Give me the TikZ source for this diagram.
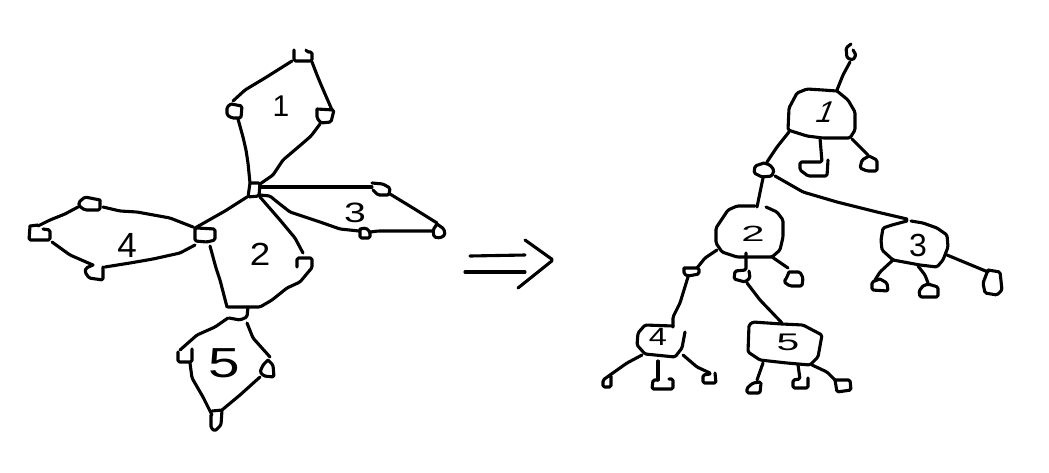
\documentclass[tikz,border=0pt]{standalone}
\usepackage{fontspec}
\setmainfont{Liberation Sans}
\tikzset{
  sk/.style={draw=black,line width=3.1pt,line join=round,line cap=round,rounded corners=1.5pt},
  dig/.style={inner sep=0pt,font=\fontsize{#1}{#1}\selectfont},
  dig/.default=28pt
}
\begin{document}
\begin{tikzpicture}[x=1pt,y=-1pt]
\useasboundingbox[fill=white] (0,0) rectangle (1049,472);
% ---- left figure: face 1
\draw[sk] (294,50)--(294,61)--(312,61)--(312,52)--(307,52)--(306,50);
\draw[sk] (292,61)--(265,78)--(245,90)--(233,101);
\draw[sk] (231,104)--(227,107)--(227,115)--(232,118)--(241,118)--(242,106)--(231,104);
\draw[sk] (238,119)--(243,137)--(246,150)--(248,163)--(250,183);
\draw[sk] (312,62)--(317,75)--(322,87)--(332,110);
\draw[sk] (317,109)--(334,110)--(331,122)--(321,123)--(317,118)--(317,109);
\draw[sk] (320,124)--(311,136)--(303,143)--(283,160)--(273,175)--(260,184);
\draw[sk] (250,183)--(260,183)--(259,196)--(248,197)--(250,183);
\draw[sk] (260,187)--(372,187);
% face 3
\draw[sk] (372,183)--(383,184)--(390,188)--(389,195)--(378,195)--(373,190);
\draw[sk] (390,194)--(413,208)--(437,223);
\draw[sk] (437,224)--(444,229)--(445,235)--(440,238)--(434,237)--(433,230)--(437,224);
\draw[sk] (433,231)--(378,231)--(370,232);
\draw[sk] (360,229)--(366,228)--(370,232)--(370,238)--(360,238)--(360,229);
\draw[sk] (260,195)--(270,196)--(276,201)--(290,212)--(320,222)--(340,229)--(359,231);
% face 2
\draw[sk] (260,197)--(280,220)--(295,238)--(303,253);
\draw[sk] (297,267)--(297,258)--(312,258)--(312,268)--(310,270);
\draw[sk] (310,270)--(300,282)--(287,288)--(272,300)--(260,307)--(228,307);
\draw[sk] (248,307)--(247,317)--(240,320)--(229,318);
\draw[sk] (247,197)--(225,211)--(195,228);
\draw[sk] (195,228)--(195,241)--(207,242)--(215,240)--(215,229)--(197,228);
\draw[sk] (210,246)--(216,268)--(220,280)--(227,307);
% face 4
\draw[sk] (103,207)--(120,211)--(137,212)--(170,218)--(193,227);
\draw[sk] (100,200)--(85,197)--(79,202)--(79,206)--(85,210)--(100,210)--(100,200);
\draw[sk] (78,207)--(65,214)--(50,220)--(38,226);
\draw[sk] (30,226)--(29,240)--(50,240)--(50,230)--(43,229);
\draw[sk] (30,226)--(38,225);
\draw[sk] (52,242)--(70,255)--(93,265);
\draw[sk] (93,265)--(86,268)--(85,272)--(89,278)--(103,280)--(103,267);
\draw[sk] (105,267)--(130,263)--(153,259)--(180,253)--(195,245);
% face 5
\draw[sk] (228,318)--(215,327)--(197,335)--(180,350);
\draw[sk] (178,352)--(178,362)--(192,362)--(192,349);
\draw[sk] (190,363)--(192,378)--(203,397)--(212,415);
\draw[sk] (212,411)--(222,410)--(221,425)--(215,431)--(211,428)--(211,415);
\draw[sk] (222,410)--(240,395)--(260,377);
\draw[sk] (247,323)--(253,338)--(270,357);
\draw[sk] (268,360)--(273,365)--(274,377)--(264,376)--(260,372)--(263,365)--(268,360);
% digits left
\node[dig=30pt] (la) at (281,106) {1};
\node[dig=32pt,xscale=1.15,transform shape] (lb) at (260,254) {2};
\node[dig=28pt,xscale=1.4,transform shape] (lc) at (355,213) {3};
\node[dig=35pt] (ld) at (127,245) {4};
\node[dig=42pt,xscale=1.35,transform shape] (le) at (224,363) {5};
% ---- implication arrow
\draw[sk] (470,256)--(525,255);
\draw[sk] (465,272)--(525,272);
\draw[sk] (525,240)--(553,260)--(518,288);
% ---- right figure: root
\draw[sk] (851,44)--(846,48)--(847,58)--(853,60)--(856,55)--(853,50);
\draw[sk] (850,62)--(843,75)--(837,90);
\draw[sk] (837,91)--(823,90)--(807,89)--(797,93)--(789,108)--(788,130)--(807,136)--(823,138)--(850,138)--(855,130)--(855,112)--(848,100)--(837,91);
\draw[sk] (789,132)--(777,147)--(767,162);
\draw[sk] (764,163)--(770,165)--(774,170)--(772,176)--(762,177)--(754,173)--(755,166)--(764,163);
\draw[sk] (820,138)--(822,162)--(800,162)--(800,170)--(808,176)--(827,176)--(828,160);
\draw[sk] (852,139)--(868,155);
\draw[sk] (869,156)--(862,160)--(860,168)--(867,171)--(877,171)--(877,160)--(869,156);
\draw[sk] (763,178)--(757,207);
\draw[sk] (775,176)--(803,192)--(837,202)--(877,212)--(907,219);
% node 2
\draw[sk] (755,206)--(737,206)--(728,210)--(716,228)--(716,243)--(722,252)--(737,257)--(772,257)--(780,250)--(783,237)--(783,220)--(777,212)--(766,207);
\draw[sk] (717,250)--(705,258)--(697,268);
\draw[sk] (684,268)--(699,268)--(699,274)--(688,276)--(684,274)--(684,268);
\draw[sk] (688,277)--(680,303)--(673,317)--(673,327);
\draw[sk] (746,253)--(746,270)--(735,271)--(734,279)--(745,282)--(750,278)--(749,271);
\draw[sk] (747,283)--(760,300)--(782,323);
\draw[sk] (772,257)--(788,268);
\draw[sk] (789,272)--(800,272)--(803,278)--(802,286)--(790,286)--(784,282)--(787,277)--(789,272);
% node 4
\draw[sk] (673,326)--(645,325)--(638,333)--(637,345)--(645,354)--(675,357)--(682,348)--(685,332);
\draw[sk] (642,355)--(627,363)--(610,375);
\draw[sk] (610,375)--(603,380)--(603,387)--(611,387)--(611,376);
\draw[sk] (658,361)--(658,380);
\draw[sk] (658,380)--(653,380)--(652,389)--(673,389)--(673,379)--(669,379);
\draw[sk] (683,355)--(697,367)--(710,373);
\draw[sk] (715,373)--(716,383)--(703,383)--(703,375)--(710,374);
% node 5
\draw[sk] (782,324)--(753,322)--(749,325)--(748,352)--(760,360)--(787,363)--(810,365)--(818,357)--(822,335)--(803,325)--(782,324);
\draw[sk] (763,363)--(757,380);
\draw[sk] (760,382)--(753,383)--(747,388)--(747,393)--(760,393)--(761,383);
\draw[sk] (798,365)--(800,379)--(793,380)--(793,388)--(808,388)--(808,378);
\draw[sk] (812,365)--(827,372)--(835,380);
\draw[sk] (835,380)--(850,380)--(851,390)--(837,392)--(835,380);
% node 3
\draw[sk] (907,221)--(892,225)--(883,228)--(881,240)--(882,250)--(893,260)--(920,265)--(937,267)--(943,260)--(948,247)--(947,235)--(937,228)--(923,223)--(911,221);
\draw[sk] (893,260)--(880,272)--(875,280);
\draw[sk] (880,279)--(872,282)--(872,290)--(888,291)--(887,283)--(880,279);
\draw[sk] (918,266)--(925,275)--(928,283);
\draw[sk] (923,286)--(919,291)--(920,297)--(938,297)--(938,287)--(928,284)--(923,286);
\draw[sk] (947,255)--(988,272);
\draw[sk] (988,270)--(1000,272)--(1002,290)--(997,295)--(985,293)--(983,283)--(988,270);
% digits right
\node[dig=30pt,xslant=0.4,transform shape] (ra) at (826,112) {1};
\node[dig=22pt,xscale=1.9,transform shape] (rb) at (753,234) {2};
\node[dig=32pt] (rc) at (918,245) {3};
\node[dig=25pt,xscale=1.3,transform shape] (rd) at (658,337) {4};
\node[dig=24pt,xscale=1.7,transform shape] (re) at (788,342) {5};
\end{tikzpicture}
\end{document}
